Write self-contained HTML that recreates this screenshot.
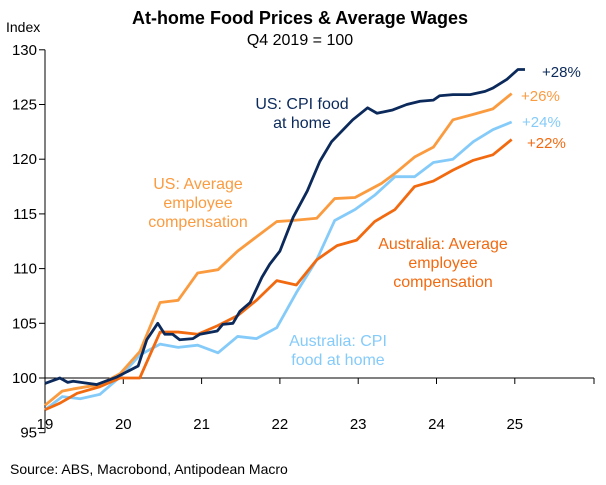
<!DOCTYPE html>
<html><head><meta charset="utf-8"><style>
body{margin:0;background:#fff;font-family:"Liberation Sans",sans-serif}
svg text{font-family:"Liberation Sans",sans-serif}
</style></head><body>
<svg id="c" width="606" height="480">
<text x="300" y="24" text-anchor="middle" font-size="18" font-weight="bold">At-home Food Prices &amp; Average Wages</text>
<text x="300" y="45" text-anchor="middle" font-size="16">Q4 2019 = 100</text>
<text x="6" y="32" font-size="14">Index</text>
<text x="10" y="474" font-size="14">Source: ABS, Macrobond, Antipodean Macro</text>
<g id="axes"></g><g id="series"></g>
<g font-size="16" text-anchor="middle">
<text x="302" y="109" fill="#0b2a5b"><tspan x="302">US: CPI food</tspan><tspan x="302" dy="19">at home</tspan></text>
<text x="198" y="189" fill="#fb9b3f"><tspan x="198">US: Average</tspan><tspan x="198" dy="19">employee</tspan><tspan x="198" dy="19">compensation</tspan></text>
<text x="443" y="249" fill="#f26a10"><tspan x="443">Australia: Average</tspan><tspan x="443" dy="19">employee</tspan><tspan x="443" dy="19">compensation</tspan></text>
<text x="338" y="346" fill="#85cbfa"><tspan x="338">Australia: CPI</tspan><tspan x="338" dy="19">food at home</tspan></text>
</g>
<g font-size="15">
<text x="542" y="77" fill="#0b2a5b">+28%</text>
<text x="521" y="101" fill="#fb9b3f">+26%</text>
<text x="522" y="127" fill="#85cbfa">+24%</text>
<text x="527" y="148" fill="#f26a10">+22%</text>
</g>
</svg>
<script>
const yTicks=[95,100,105,110,115,120,125,130];
const xTicks=[19,20,21,22,23,24,25];
const usCpiX=[19.0,19.19,19.29,19.36,19.66,19.92,20.19,20.30,20.44,20.53,20.63,20.72,20.89,20.98,21.20,21.27,21.40,21.49,21.62,21.77,21.87,22.00,22.17,22.35,22.51,22.66,22.93,23.12,23.24,23.44,23.62,23.79,23.96,24.04,24.21,24.43,24.62,24.72,24.90,25.04,25.13];
const usCpiY=[99.5,100,99.6,99.7,99.4,100.1,101.1,103.5,105,104,104,103.5,103.6,104,104.3,104.9,105,106.1,106.9,109.2,110.4,111.6,114.7,117.1,119.8,121.6,123.6,124.7,124.2,124.5,125,125.3,125.4,125.8,125.9,125.9,126.2,126.5,127.3,128.2,128.2];
const usCompX=[19.0,19.22,19.36,19.70,19.96,20.21,20.47,20.70,20.95,21.21,21.46,21.70,21.96,22.16,22.47,22.70,22.96,23.30,23.47,23.72,23.96,24.21,24.47,24.72,24.96];
const usCompY=[97.5,98.8,99.0,99.4,100.4,102.4,106.9,107.1,109.6,109.9,111.6,112.9,114.3,114.4,114.6,116.4,116.5,117.8,118.7,120.2,121.1,123.6,124.1,124.6,126.0];
const ausCompX=[19.0,19.19,19.41,19.70,19.96,20.21,20.47,20.70,20.95,21.21,21.46,21.70,21.96,22.21,22.47,22.73,22.98,23.21,23.47,23.72,23.96,24.21,24.47,24.72,24.96];
const ausCompY=[97.1,97.7,98.6,99.2,100,100,104.2,104.2,104.0,104.8,105.7,107.1,108.9,108.5,110.8,112.1,112.6,114.3,115.4,117.5,118.0,119.0,119.9,120.4,121.8];
const ausCpiX=[19.0,19.22,19.45,19.70,19.96,20.21,20.47,20.70,20.95,21.21,21.46,21.70,21.96,22.21,22.47,22.70,22.96,23.21,23.47,23.72,23.96,24.21,24.47,24.72,24.96];
const ausCpiY=[97.1,98.3,98.1,98.5,100.1,102.1,103.1,102.8,103.0,102.3,103.8,103.6,104.6,107.8,110.8,114.4,115.4,116.7,118.4,118.4,119.7,120.0,121.6,122.7,123.4];
const X=v=>45+(v-19)*78.3, Y=v=>378-(v-100)*10.94;
const NS='http://www.w3.org/2000/svg';
function mk(t,a,p){const e=document.createElementNS(NS,t);for(const k in a)e.setAttribute(k,a[k]);p.appendChild(e);return e;}
const ax=document.getElementById('axes');
const yl=mk('line',{x1:45,x2:45,y1:Y(130),y2:Y(95),stroke:'#000'},ax);


const xl=mk('line',{x1:45,x2:594,y1:Y(100),y2:Y(100),stroke:'#000'},ax);


yTicks.forEach(v=>{mk('line',{x1:39,x2:45,y1:Y(v),y2:Y(v),stroke:'#000'},ax);
const t=mk('text',{x:37,y:Y(v)+5,'text-anchor':'end','font-size':15},ax);t.textContent=v;

});
xTicks.forEach(v=>{if(v>19)mk('line',{x1:X(v),x2:X(v),y1:Y(100),y2:Y(100)+6,stroke:'#000'},ax);
const t=mk('text',{x:X(v),y:429,'text-anchor':'middle','font-size':15},ax);t.textContent=v;

});
mk('line',{x1:594,x2:594,y1:Y(100),y2:Y(100)+6,stroke:'#000'},ax);
const sg=document.getElementById('series');
[[ausCpiX,ausCpiY,'#85cbfa','aus-cpi-line'],[usCompX,usCompY,'#fb9b3f','us-comp-line'],[ausCompX,ausCompY,'#f26a10','aus-comp-line'],[usCpiX,usCpiY,'#0b2a5b','us-cpi-line']].forEach(s=>{
const p=mk('polyline',{points:s[0].map((x,i)=>X(x)+','+Y(s[1][i])).join(' '),fill:'none',stroke:s[2],'stroke-width':2.8,'stroke-linejoin':'round'},sg);

});
</script>
</body></html>
